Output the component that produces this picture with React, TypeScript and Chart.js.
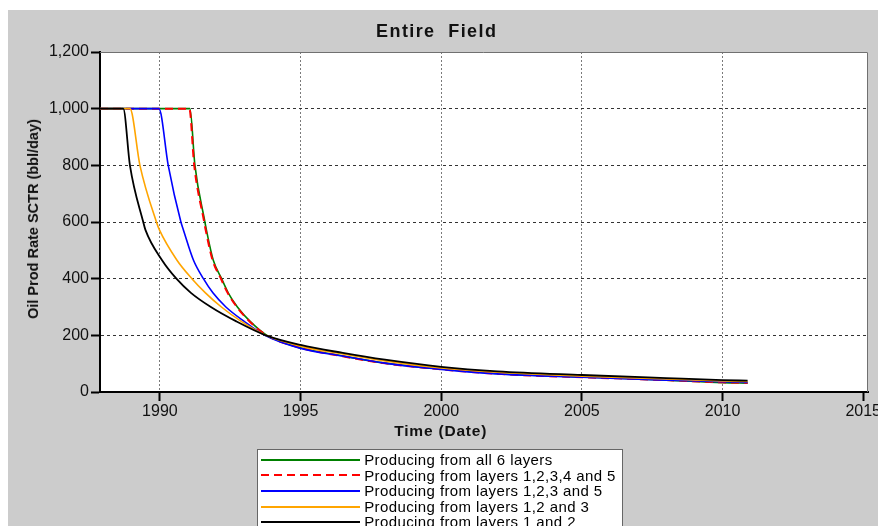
import { useEffect, useRef } from "react";
import { Chart, registerables } from "chart.js";

Chart.register(...registerables);

// Decline curves for the whole field, oil rate (bbl/day) against time (decimal year).
const X_MIN = 1987.87;
const X_MAX = 2015.17;
const X_TICKS = [1990, 1995, 2000, 2005, 2010, 2015];
const Y_TICKS = [0, 200, 400, 600, 800, 1000, 1200];

const allSixLayers: [number, number][] = [
  [1987.87, 1000], [1991.066, 1000], [1991.244, 800], [1991.599, 600], [1991.652, 572],
  [1991.894, 466], [1992.193, 400], [1992.427, 350], [1992.754, 300], [1993.198, 250],
  [1993.802, 200], [1995, 156], [1996.5, 127], [1998, 102], [2000, 81], [2002, 65],
  [2005, 53], [2008, 42], [2010, 33], [2010.89, 31],
];

const layers12345: [number, number][] = [
  [1987.87, 1000], [1991.045, 1000], [1991.219, 800], [1991.574, 600], [1991.627, 572],
  [1991.869, 466], [1992.168, 400], [1992.406, 350], [1992.736, 300], [1993.18, 250],
  [1993.795, 200], [1995, 156], [1996.5, 126], [1998, 101], [2000, 80], [2002, 64],
  [2005, 52], [2008, 42], [2010, 34], [2010.89, 32],
];

const layers1235: [number, number][] = [
  [1987.87, 1000], [1989.964, 1000], [1990.295, 800], [1990.746, 600], [1990.835, 572],
  [1991.19, 466], [1991.546, 400], [1991.883, 350], [1992.345, 300], [1992.985, 250],
  [1993.731, 200], [1995, 154], [1996.5, 127], [1998, 102], [2000, 80], [2002, 64],
  [2005, 52], [2008, 42], [2010, 36], [2010.89, 34],
];

const layers123: [number, number][] = [
  [1987.87, 1000], [1988.934, 1000], [1989.289, 800], [1989.876, 600], [1989.982, 572],
  [1990.6, 466], [1991.137, 400], [1991.617, 350], [1992.186, 300], [1992.878, 250],
  [1993.767, 200], [1995, 162], [1996.5, 134], [1998, 110], [2000, 85], [2002, 70],
  [2005, 56], [2008, 46], [2010, 39], [2010.89, 37],
];

const layers12: [number, number][] = [
  [1987.87, 1000], [1988.696, 1000], [1988.934, 800], [1989.407, 600], [1989.485, 572],
  [1990.07, 466], [1990.586, 400], [1991.102, 350], [1991.812, 300], [1992.701, 250],
  [1993.767, 200], [1995, 166], [1996.5, 138], [1998, 114], [2000, 89], [2002, 73],
  [2005, 60], [2008, 49], [2010, 42], [2010.89, 40],
];

const SERIES_LABELS = [
  "Producing from all 6 layers",
  "Producing from layers 1,2,3,4 and 5",
  "Producing from layers 1,2,3 and 5",
  "Producing from layers 1,2 and 3",
  "Producing from layers 1 and 2",
];
const SERIES_DATA = [allSixLayers, layers12345, layers1235, layers123, layers12];
const SERIES_COLORS = ["#008000", "#ff0000", "#0000ff", "#ffa500", "#000000"];
const SERIES_DASH: number[][] = [[], [8, 5], [], [], []];
const SERIES_WIDTH = [1.6, 2, 1.6, 1.6, 1.8];

const FONT = "Arial, 'Liberation Sans', sans-serif";

const plotFrame = {
  id: "plotFrame",
  beforeDraw(chart: any) {
    const { ctx, chartArea } = chart;
    const { left, top, right, bottom } = chartArea;
    ctx.save();
    ctx.fillStyle = "#ffffff";
    ctx.fillRect(left, top, right - left, bottom - top);
    ctx.restore();
  },
  afterDraw(chart: any) {
    const { ctx, chartArea } = chart;
    const { left, top, right, bottom } = chartArea;
    ctx.save();
    ctx.strokeStyle = "#707070";
    ctx.lineWidth = 1;
    ctx.beginPath();
    ctx.moveTo(left, top + 0.5);
    ctx.lineTo(right - 0.5, top + 0.5);
    ctx.lineTo(right - 0.5, bottom);
    ctx.stroke();
    ctx.restore();
  },
};

function LegendLine({ color, dash, width }: { color: string; dash: number[]; width: number }) {
  return (
    <svg width={99} height={4} style={{ display: "block", flex: "0 0 auto" }}>
      <line
        x1={0}
        y1={2}
        x2={99}
        y2={2}
        stroke={color}
        strokeWidth={width}
        strokeDasharray={dash.length ? dash.join(" ") : undefined}
      />
    </svg>
  );
}

export default function App() {
  const canvasRef = useRef<HTMLCanvasElement | null>(null);

  useEffect(() => {
    if (!canvasRef.current) return;
    // Reverse so the first legend entry is painted underneath the others.
    const datasets = SERIES_LABELS.map((label, i) => ({
      label,
      data: SERIES_DATA[i].map(([x, y]) => ({ x, y })),
      borderColor: SERIES_COLORS[i],
      backgroundColor: SERIES_COLORS[i],
      borderWidth: SERIES_WIDTH[i],
      borderDash: SERIES_DASH[i],
      pointRadius: 0,
      fill: false,
      cubicInterpolationMode: "monotone" as const,
    })).reverse();

    const chart = new Chart(canvasRef.current, {
      type: "line",
      data: { datasets },
      plugins: [plotFrame],
      options: {
        animation: false,
        responsive: false,
        maintainAspectRatio: false,
        layout: { padding: { top: 42, right: 40, left: 0, bottom: 0 } },
        plugins: {
          legend: { display: false },
          title: { display: false },
          tooltip: { enabled: false },
        },
        scales: {
          x: {
            type: "linear",
            min: X_MIN,
            max: X_MAX,
            afterBuildTicks: (scale: any) => {
              scale.ticks = X_TICKS.map((value) => ({ value }));
            },
            afterFit: (scale: any) => {
              scale.height = 58;
            },
            ticks: {
              autoSkip: false,
              maxRotation: 0,
              padding: 1,
              color: "#111111",
              font: { family: FONT, size: 16 },
              callback: (v: any) => String(v),
            },
            grid: {
              color: (ctx: any) =>
                ctx.tick && ctx.tick.value === 2015 ? "rgba(0,0,0,0)" : "#7a7a7a",
              lineWidth: 1,
              drawTicks: true,
              tickLength: 9,
              tickColor: "#000000",
              tickWidth: 2,
            },
            border: { display: true, color: "#000000", width: 2, dash: [2, 2] },
          },
          y: {
            type: "linear",
            min: 0,
            max: 1200,
            afterBuildTicks: (scale: any) => {
              scale.ticks = Y_TICKS.map((value) => ({ value }));
            },
            afterFit: (scale: any) => {
              scale.width = 92;
            },
            ticks: {
              padding: 2,
              color: "#111111",
              font: { family: FONT, size: 16 },
              callback: (v: any) => Number(v).toLocaleString("en-US"),
            },
            grid: {
              color: (ctx: any) =>
                ctx.tick && (ctx.tick.value === 0 || ctx.tick.value === 1200)
                  ? "rgba(0,0,0,0)"
                  : "#333333",
              lineWidth: 1,
              drawTicks: true,
              tickLength: 9,
              tickColor: "#000000",
              tickWidth: 2,
            },
            border: { display: true, color: "#000000", width: 2, dash: [3, 3] },
          },
        },
      },
    });

    return () => chart.destroy();
  }, []);

  return (
    <div
      style={{
        position: "absolute",
        left: 8,
        top: 10,
        width: 870,
        height: 516,
        background: "#cccccc",
        overflow: "hidden",
        fontFamily: FONT,
        color: "#000",
      }}
    >
      <canvas
        ref={canvasRef}
        width={900}
        height={440}
        style={{ position: "absolute", left: 0, top: 0, width: 900, height: 440 }}
      />
      <div
        style={{
          position: "absolute",
          left: 428.7,
          top: 21,
          transform: "translate(-50%, -50%)",
          fontWeight: "bold",
          fontSize: 18,
          letterSpacing: 1.4,
          whiteSpace: "pre",
          color: "#111",
        }}
      >
        {"Entire  Field"}
      </div>
      <div
        style={{
          position: "absolute",
          left: 25,
          top: 209,
          transform: "translate(-50%, -50%) rotate(-90deg)",
          fontWeight: "bold",
          fontSize: 14.5,
          whiteSpace: "nowrap",
          color: "#111",
        }}
      >
        Oil Prod Rate SCTR (bbl/day)
      </div>
      <div
        style={{
          position: "absolute",
          left: 432.7,
          top: 421,
          transform: "translate(-50%, -50%)",
          fontWeight: "bold",
          fontSize: 15.5,
          letterSpacing: 0.8,
          whiteSpace: "nowrap",
          color: "#111",
        }}
      >
        Time (Date)
      </div>
      <div
        style={{
          position: "absolute",
          left: 249,
          top: 439,
          width: 366,
          height: 120,
          boxSizing: "border-box",
          background: "#ffffff",
          border: "1px solid #666666",
          paddingTop: 2,
          paddingLeft: 2.5,
        }}
      >
        {SERIES_LABELS.map((label, i) => (
          <div
            key={label}
            style={{ display: "flex", alignItems: "center", height: 15.6 }}
          >
            <LegendLine color={SERIES_COLORS[i]} dash={SERIES_DASH[i]} width={2} />
            <span
              style={{
                marginLeft: 4.7,
                fontSize: 15,
                letterSpacing: 0.4,
                lineHeight: "15.6px",
                whiteSpace: "nowrap",
              }}
            >
              {label}
            </span>
          </div>
        ))}
      </div>
    </div>
  );
}
